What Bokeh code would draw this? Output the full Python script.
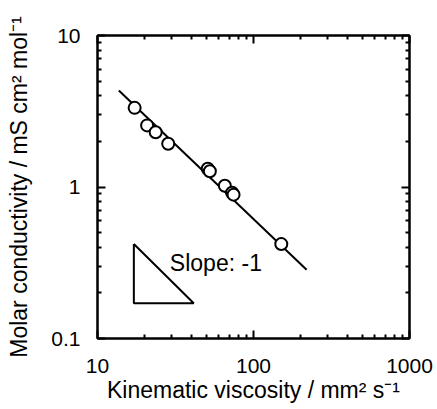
from bokeh.plotting import figure
from bokeh.models import LogAxis, FixedTicker, Label, CustomJSTickFormatter
from bokeh.embed import file_html
from bokeh.resources import INLINE

# Data
viscosity = [17.3, 20.8, 23.6, 28.4, 50.9, 52.5, 65.5, 72.9, 74.5, 150.7]
conductivity = [3.33, 2.55, 2.30, 1.93, 1.32, 1.27, 1.02, 0.916, 0.89, 0.42]

fit_x = [13.7, 219.0]
fit_y = [4.33, 0.284]

tri_x = [17.1, 17.1, 41.4, 17.1]
tri_y = [0.421, 0.171, 0.171, 0.421]

slope_label = "Slope: -1"
slope_pos = (29.1, 0.313)

x_ticks = [10, 100, 1000]
y_ticks = [0.1, 1, 10]
x_minor = [20, 30, 40, 50, 60, 70, 80, 90, 200, 300, 400, 500, 600, 700, 800, 900]
y_minor = [0.2, 0.3, 0.4, 0.5, 0.6, 0.7, 0.8, 0.9, 2, 3, 4, 5, 6, 7, 8, 9]

FONT = "Liberation Sans"

p = figure(frame_width=312, frame_height=303, x_axis_type="log", y_axis_type="log",
           x_range=(10, 1000), y_range=(0.1, 10),
           output_backend="svg", toolbar_location=None,
           min_border_left=97, min_border_right=28, min_border_top=35, min_border_bottom=71)

p.grid.visible = False
p.outline_line_color = "black"
p.outline_line_width = 2
p.background_fill_color = "white"
p.border_fill_color = "white"

p.line(fit_x, fit_y, line_color="black", line_width=2)
p.line(tri_x, tri_y, line_color="black", line_width=2)
p.scatter(viscosity, conductivity, marker="circle", size=12,
          fill_color="white", line_color="black", line_width=2)

p.add_layout(Label(x=slope_pos[0], y=slope_pos[1], text=slope_label,
                   text_font=FONT, text_font_size="23px", text_baseline="middle",
                   text_color="black"))

fmt = CustomJSTickFormatter(code="return String(tick);")

def style(ax, show_labels):
    ax.axis_line_width = 2
    ax.axis_line_color = "black"
    ax.major_tick_in = 8
    ax.major_tick_out = 0
    ax.minor_tick_in = 4
    ax.minor_tick_out = 0
    ax.major_tick_line_width = 2
    ax.minor_tick_line_width = 2
    ax.major_label_text_font = FONT
    ax.major_label_text_font_size = "21px"
    ax.major_label_text_color = "black"
    ax.axis_label_text_font = FONT
    ax.axis_label_text_font_size = "23px"
    ax.axis_label_text_font_style = "normal"
    ax.axis_label_text_color = "black"
    ax.formatter = fmt
    if not show_labels:
        ax.major_label_text_alpha = 0
        ax.major_label_text_font_size = "1px"
        ax.major_label_standoff = 0

xa = p.xaxis[0]
xa.ticker = FixedTicker(ticks=x_ticks, minor_ticks=x_minor)
xa.axis_label = "Kinematic viscosity / mm² s⁻¹"
style(xa, True)
xa.major_label_standoff = 20
xa.axis_label_standoff = 1

ya = p.yaxis[0]
ya.ticker = FixedTicker(ticks=y_ticks, minor_ticks=y_minor)
ya.axis_label = "Molar conductivity / mS cm² mol⁻¹"
style(ya, True)
ya.major_label_standoff = 17
ya.axis_label_standoff = 16
ya.major_label_orientation = "horizontal"

top = LogAxis(ticker=FixedTicker(ticks=x_ticks, minor_ticks=x_minor))
style(top, False)
p.add_layout(top, "above")
right = LogAxis(ticker=FixedTicker(ticks=y_ticks, minor_ticks=y_minor))
style(right, False)
p.add_layout(right, "right")

open("out.html", "w").write(file_html(p, INLINE))
